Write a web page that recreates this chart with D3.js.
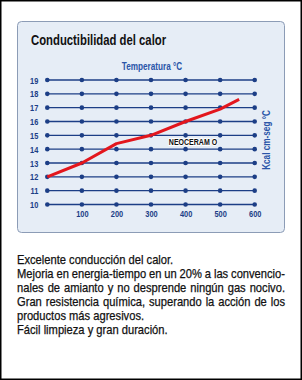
<!DOCTYPE html>
<html>
<head>
<meta charset="utf-8">
<script src="https://cdn.jsdelivr.net/npm/d3@7"></script>
<style>
  body { margin: 0; background: #fff; }
  svg { display: block; }
  text { font-family: "Liberation Sans", Arial, sans-serif; }
</style>
</head>
<body>
<div id="chart"></div>
<script>
// values
const gridTemps = [0, 100, 200, 300, 400, 500, 600]
const tempTicks = [100, 200, 300, 400, 500, 600]
const kcalRows = [10, 11, 12, 13, 14, 15, 16, 17, 18, 19]
const curveTemp = [0, 100, 200, 300, 400, 500, 555]
const curveKcal = [12, 13, 14.4, 15, 16, 16.9, 17.6]

const bodyLines = [
  { words: "Excelente conducción del calor.", justify: false },
  { words: "Mejoria en energia-tiempo en un 20% a las convencio-", justify: true },
  { words: "nales de amianto y no desprende ningún gas nocivo.", justify: true },
  { words: "Gran resistencia química, superando la acción de los", justify: true },
  { words: "productos más agresivos.", justify: false },
  { words: "Fácil limpieza y gran duración.", justify: false }
]

const W = 302, H = 380
const navy = "#1c3e86"
const blueText = "#2a55a8"
const narrow = 0.78   // the original uses a condensed face, squeeze a normal one

const svg = d3.select("#chart").append("svg")
  .attr("width", W).attr("height", H)

// squeeze a text node to the condensed width
function squeeze(sel, sx) {
  sel.each(function () {
    const len = this.getComputedTextLength()
    d3.select(this)
      .attr("textLength", len * (sx || narrow))
      .attr("lengthAdjust", "spacingAndGlyphs")
  })
  return sel
}

function condText(parent, px, py, str, size, weight) {
  const t = parent.append("text")
    .attr("x", px).attr("y", py)
    .attr("font-size", size)
    .attr("font-weight", weight || "normal")
    .text(str)
  return squeeze(t)
}

// outer frame
svg.append("rect")
  .attr("x", 0.75).attr("y", 0.75)
  .attr("width", W - 1.5).attr("height", H - 1.5)
  .attr("fill", "#fff").attr("stroke", "#000").attr("stroke-width", 1.5)

// panel
svg.append("rect")
  .attr("x", 17.5).attr("y", 21.5)
  .attr("width", 267).attr("height", 211)
  .attr("rx", 4)
  .attr("fill", "#e6edf6").attr("stroke", "#8c9cb6").attr("stroke-width", 1)

condText(svg, 31, 45, "Conductibilidad del calor", 14.5, "bold")
  .attr("fill", "#111")

condText(svg, 152, 70, "Temperatura °C", 10.5, "bold")
  .attr("text-anchor", "middle")
  .attr("fill", blueText)

// scales
const x = d3.scaleLinear().domain([0, 600]).range([47.3, 254.7])
const y = d3.scaleLinear().domain([10, 19]).range([204.5, 80])

// grid rows with dots
const rows = svg.append("g").selectAll("g")
  .data(kcalRows)
  .enter().append("g")

rows.append("line")
  .attr("x1", x(0)).attr("x2", x(600))
  .attr("y1", d => y(d)).attr("y2", d => y(d))
  .attr("stroke", navy).attr("stroke-width", 1.4)

rows.selectAll("circle")
  .data(r => gridTemps.map(t => ({ t: t, k: r })))
  .enter().append("circle")
  .attr("cx", d => x(d.t)).attr("cy", d => y(d.k))
  .attr("r", 2.3)
  .attr("fill", navy)

// axes (labels only)
const yAxis = svg.append("g")
  .attr("transform", "translate(" + x(0) + ",0)")
  .call(d3.axisLeft(y).tickValues(kcalRows).tickSize(0).tickPadding(9).tickFormat(d3.format("d")))
yAxis.select(".domain").remove()
squeeze(yAxis.selectAll("text")
  .attr("font-family", null).attr("font-size", 9.5).attr("font-weight", "bold")
  .attr("fill", navy))

const xAxis = svg.append("g")
  .attr("transform", "translate(0," + y(10) + ")")
  .call(d3.axisBottom(x).tickValues(tempTicks).tickSize(0).tickPadding(6))
xAxis.select(".domain").remove()
squeeze(xAxis.selectAll("text")
  .attr("font-family", null).attr("font-size", 9.5).attr("font-weight", "bold")
  .attr("fill", navy))

// curve
const curve = curveTemp.map((t, i) => [t, curveKcal[i]])
svg.append("path")
  .datum(curve)
  .attr("d", d3.line().x(d => x(d[0])).y(d => y(d[1])))
  .attr("fill", "none")
  .attr("stroke", "#e3161d").attr("stroke-width", 3)
  .attr("stroke-linejoin", "round")

condText(svg, 193, 145, "NEOCERAM O", 9, "bold")
  .attr("text-anchor", "middle")
  .attr("fill", "#111")
  .attr("stroke", "#fff").attr("stroke-width", 2).attr("paint-order", "stroke")

condText(svg.append("g").attr("transform", "translate(270,140) rotate(-90)"),
    0, 0, "Kcal cm-seg °C", 10.5, "bold")
  .attr("text-anchor", "middle")
  .attr("fill", blueText)

// body text: one text per line, words as squeezed tspans, some lines justified
const left = 17, right = 285, lineY0 = 263.5, lineGap = 14.15
const bodySize = 12.4, bodyNarrow = 0.9

const probe = svg.append("text").attr("font-size", bodySize)
function wordWidth(w) {
  probe.text(w)
  return probe.node().getComputedTextLength() * bodyNarrow
}
const spaceW = wordWidth("a b") - wordWidth("ab")

bodyLines.forEach((line, i) => {
  const words = line.words.split(" ")
  const widths = words.map(wordWidth)
  const gap = line.justify
    ? (right - left - d3.sum(widths)) / (words.length - 1)
    : spaceW
  const t = svg.append("text")
    .attr("y", lineY0 + i * lineGap)
    .attr("font-size", bodySize)
    .attr("fill", "#111")
    .attr("stroke", "#111").attr("stroke-width", 0.25)
  let cx = left
  words.forEach((w, j) => {
    t.append("tspan")
      .attr("x", cx)
      .attr("textLength", widths[j])
      .attr("lengthAdjust", "spacingAndGlyphs")
      .text(w)
    cx += widths[j] + gap
  })
})
probe.remove()
</script>
</body>
</html>
